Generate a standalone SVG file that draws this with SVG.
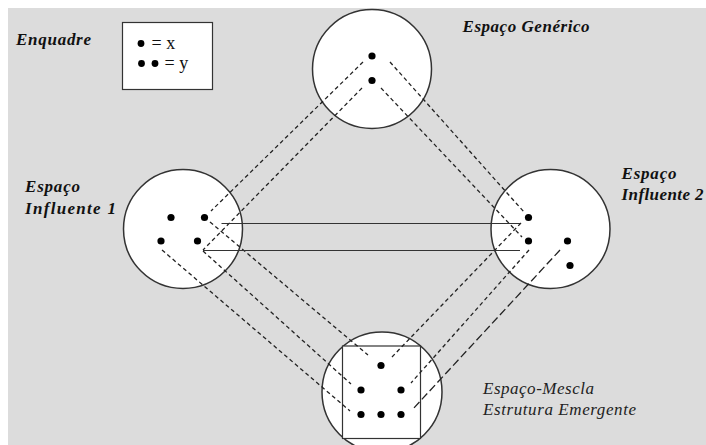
<svg xmlns="http://www.w3.org/2000/svg" width="706" height="445" viewBox="0 0 706 445">
<style>
.bg{fill:#dcdcdc}
.space{fill:#fff;stroke:#333;stroke-width:1.5}
.dot{fill:#000}
.dash{fill:none;stroke:#222;stroke-width:1.3;stroke-dasharray:4 3}
.long{fill:none;stroke:#222;stroke-width:1.3;stroke-dasharray:8 3.5}
.solid{fill:none;stroke:#333;stroke-width:1.2}
.lbl{font-family:"Liberation Serif","Times New Roman",serif;font-size:17px;font-weight:bold;font-style:italic;fill:#111}
.lbl2{font-family:"Liberation Serif","Times New Roman",serif;font-size:17px;font-style:italic;fill:#222}
.leg{font-family:"Liberation Serif","Times New Roman",serif;font-size:18px;fill:#111}
</style>
<rect x="0" y="0" width="706" height="445" fill="#fff"/>
<rect class="bg" x="8" y="8" width="698" height="437"/>

<g id="legend">
<rect x="122.5" y="22.5" width="90" height="67" fill="#fff" stroke="#333" stroke-width="1.2"/>
<circle class="dot" cx="141" cy="43.5" r="3.4"/>
<text class="leg" x="151.5" y="48.5">= x</text>
<circle class="dot" cx="141.5" cy="63.5" r="3.4"/>
<circle class="dot" cx="155" cy="63.5" r="3.4"/>
<text class="leg" x="164.5" y="68.5">= y</text>
</g>

<g id="enquadre"><text class="lbl" x="16" y="45" textLength="75" lengthAdjust="spacing">Enquadre</text></g>

<g id="espaco-generico">
<circle class="space" cx="372" cy="69" r="59.5"/>
<text class="lbl" x="462.5" y="32" textLength="127" lengthAdjust="spacing">Espaço Genérico</text>
</g>

<g id="espaco-influente-1">
<circle class="space" cx="183" cy="229" r="59.5"/>
<text class="lbl" x="25" y="191.5" textLength="55" lengthAdjust="spacing">Espaço</text>
<text class="lbl" x="25" y="213.5" textLength="91" lengthAdjust="spacing">Influente 1</text>
</g>

<g id="espaco-influente-2">
<circle class="space" cx="550.5" cy="229" r="59.5"/>
<text class="lbl" x="621.5" y="178.5" textLength="55" lengthAdjust="spacing">Espaço</text>
<text class="lbl" x="621.5" y="200" textLength="82" lengthAdjust="spacing">Influente 2</text>
</g>

<g id="espaco-mescla">
<circle class="space" cx="382" cy="392" r="60"/>
<rect x="342.5" y="346" width="78" height="92.5" fill="#fff" stroke="#333" stroke-width="1.2"/>
<text class="lbl2" x="483" y="393.5" textLength="111" lengthAdjust="spacing">Espaço-Mescla</text>
<text class="lbl2" x="483" y="415" textLength="153" lengthAdjust="spacing">Estrutura Emergente</text>
</g>

<g id="connectors">
<line class="dash" x1="363" y1="62" x2="211" y2="211"/>
<line class="dash" x1="362" y1="88" x2="203" y2="250"/>
<line class="dash" x1="390" y1="62" x2="524" y2="212"/>
<line class="dash" x1="381" y1="88" x2="522" y2="237"/>
<line class="dash" x1="210" y1="222" x2="368" y2="355"/>
<line class="dash" x1="203" y1="251" x2="351" y2="384"/>
<line class="dash" x1="162" y1="250" x2="350" y2="411"/>
<line class="dash" x1="521" y1="223" x2="391" y2="358"/>
<line class="dash" x1="529" y1="250" x2="411" y2="383"/>
<line class="long" x1="560" y1="250" x2="412" y2="410"/>
<line class="solid" x1="221.5" y1="223.5" x2="520" y2="223.5"/>
<line class="solid" x1="203" y1="250.5" x2="520" y2="250.5"/>
</g>

<g id="dots">
<circle class="dot" cx="372" cy="56" r="3.6"/>
<circle class="dot" cx="372" cy="80.5" r="3.6"/>
<circle class="dot" cx="171" cy="217.5" r="3.6"/>
<circle class="dot" cx="204.5" cy="217.5" r="3.6"/>
<circle class="dot" cx="161" cy="241" r="3.6"/>
<circle class="dot" cx="197.5" cy="241" r="3.6"/>
<circle class="dot" cx="528.5" cy="217.5" r="3.6"/>
<circle class="dot" cx="528.5" cy="241" r="3.6"/>
<circle class="dot" cx="567.5" cy="241" r="3.6"/>
<circle class="dot" cx="570" cy="265.5" r="3.6"/>
<circle class="dot" cx="381" cy="365.5" r="3.6"/>
<circle class="dot" cx="361" cy="390" r="3.6"/>
<circle class="dot" cx="401" cy="390" r="3.6"/>
<circle class="dot" cx="361" cy="414.5" r="3.6"/>
<circle class="dot" cx="381" cy="414.5" r="3.6"/>
<circle class="dot" cx="401" cy="414.5" r="3.6"/>
</g>
</svg>
